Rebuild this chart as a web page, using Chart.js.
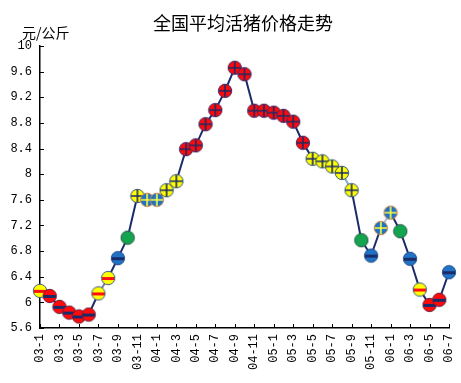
<!DOCTYPE html>
<html>
<head>
<meta charset="utf-8">
<script src="https://cdn.jsdelivr.net/npm/chart.js@4.4.1/dist/chart.umd.min.js"></script>
<style>
  html, body { margin: 0; padding: 0; background: #fff; }
  #wrap { width: 461px; height: 383px; }
</style>
</head>
<body>
<div id="wrap"><canvas id="priceChart"></canvas></div>
<script>
// monthly labels 03-1 .. 06-7
const months = [
  "03-1","03-2","03-3","03-4","03-5","03-6","03-7","03-8","03-9","03-10","03-11","03-12",
  "04-1","04-2","04-3","04-4","04-5","04-6","04-7","04-8","04-9","04-10","04-11","04-12",
  "05-1","05-2","05-3","05-4","05-5","05-6","05-7","05-8","05-9","05-10","05-11","05-12",
  "06-1","06-2","06-3","06-4","06-5","06-6","06-7"
];

// yuan / kg
const prices = [
  6.18, 6.10, 5.93, 5.84, 5.78, 5.81, 6.14, 6.38, 6.69, 7.01, 7.66, 7.60,
  7.60, 7.75, 7.89, 8.39, 8.45, 8.78, 9.00, 9.30, 9.66, 9.56, 8.99, 8.99,
  8.96, 8.91, 8.82, 8.49, 8.24, 8.20, 8.12, 8.02, 7.75, 6.97, 6.73, 7.16,
  7.40, 7.11, 6.68, 6.20, 5.96, 6.04, 6.47
];

const yTicks = [5.6, 6, 6.4, 6.8, 7.2, 7.6, 8, 8.4, 8.8, 9.2, 9.6, 10];

// marker kind per month
const kinds = [
  "yMinus","rMinus","rMinus","rMinus","rMinus","rMinus","yMinus","yMinus","bMinus","green","yPlus","bPlus",
  "bPlus","yPlus","yPlus","rPlus","rPlus","rPlus","rPlus","rPlus","rPlus","rPlus","rPlus","rPlus",
  "rPlus","rPlus","rPlus","rPlus","yPlus","yPlus","yPlus","yPlus","yPlus","green","bMinus","bPlus",
  "bPlus","green","bMinus","yMinus","rMinus","rMinus","bMinus"
];

const NAVY = "#1b2b6a";

function makeMarker(fill, border, mark, markColor) {
  let c = document.createElement("canvas");
  c.width = 16; c.height = 16;
  let g = c.getContext("2d");
  g.beginPath();
  g.arc(8, 8, 6.7, 0, Math.PI * 2);
  g.fillStyle = fill;
  g.fill();
  g.lineWidth = 1;
  g.strokeStyle = border;
  g.stroke();
  g.strokeStyle = markColor;
  g.fillStyle = markColor;
  if (mark === "minus") {
    g.fillRect(2, 7, 12, 3);
  } else if (mark === "plus") {
    g.lineWidth = 1.6;
    g.beginPath();
    g.moveTo(2, 8); g.lineTo(14, 8);
    g.moveTo(8, 2); g.lineTo(8, 14);
    g.stroke();
  }
  return c;
}

const markers = {
  yMinus: makeMarker("#ffff00", "#3d5a80", "minus", "#ff1010"),
  rMinus: makeMarker("#ff0a0a", "#6a2040", "minus", NAVY),
  bMinus: makeMarker("#1f72c4", "#2a4f8a", "minus", NAVY),
  green:  makeMarker("#14a34e", "#2a5e4a", "none", ""),
  yPlus:  makeMarker("#ffff00", "#2f4d78", "plus", NAVY),
  bPlus:  makeMarker("#1f72c4", "#d98a4a", "plus", "#ffff40"),
  rPlus:  makeMarker("#ff0a0a", "#3a2a6a", "plus", NAVY)
};

// a few segments drawn lighter in the original
const lightSegs = { 6: "#8878b4", 10: "#d59a60", 11: "#d59a60", 31: "#86aad8", 35: "#a6bcd8" };

// inward tick marks + unit label + title
const decor = {
  id: "decor",
  afterDraw(chart) {
    let g = chart.ctx;
    let xs = chart.scales.x, ys = chart.scales.y;
    let a = chart.chartArea;
    g.save();
    g.strokeStyle = "#000";
    g.lineWidth = 1;
    g.beginPath();
    xs.ticks.forEach((t, i) => {
      let px = Math.round(xs.getPixelForTick(i)) + 0.5;
      g.moveTo(px, a.bottom); g.lineTo(px, a.bottom - 4);
    });
    ys.ticks.forEach((t, i) => {
      let py = Math.round(ys.getPixelForTick(i)) + 0.5;
      g.moveTo(a.left, py); g.lineTo(a.left + 4, py);
    });
    g.stroke();
    g.fillStyle = "#000";
    g.font = "18px 'Noto Sans CJK SC'";
    g.textAlign = "center";
    g.textBaseline = "middle";
    g.fillText("全国平均活猪价格走势", 243, 23);
    g.font = "14px 'Noto Sans CJK SC'";
    g.textAlign = "left";
    g.fillText("元/公斤", 22, 33);
    g.restore();
  }
};

new Chart(document.getElementById("priceChart"), {
  type: "line",
  data: {
    labels: months,
    datasets: [{
      data: prices,
      borderColor: NAVY,
      borderWidth: 2,
      tension: 0,
      pointStyle: kinds.map(k => markers[k]),
      pointRadius: 7,
      segment: {
        borderColor: ctx => lightSegs[ctx.p0DataIndex] || NAVY
      }
    }]
  },
  options: {
    responsive: true,
    maintainAspectRatio: false,
    animation: false,
    layout: { padding: { top: 46, right: 12, left: 0, bottom: 0 } },
    plugins: {
      legend: { display: false },
      title: { display: false },
      tooltip: { enabled: false }
    },
    scales: {
      x: {
        offset: false,
        grid: { display: false, drawTicks: false },
        border: { color: "#000", width: 1.5 },
        ticks: {
          autoSkip: false,
          maxRotation: 90,
          minRotation: 90,
          padding: 6,
          color: "#000",
          font: { family: "'Liberation Mono', monospace", size: 12 },
          callback: (v, i) => (i % 2 === 0 ? months[i] : null)
        },
        afterFit: s => { s.height = 55; s.paddingLeft = 0; s.paddingRight = 0; }
      },
      y: {
        min: 5.6,
        max: 10,
        grid: { display: false, drawTicks: false },
        border: { color: "#000", width: 1.5 },
        afterBuildTicks: s => { s.ticks = yTicks.map(v => ({ value: v })); },
        ticks: {
          padding: 8,
          color: "#000",
          font: { family: "'Liberation Mono', monospace", size: 12 },
          callback: v => String(v)
        },
        afterFit: s => { s.width = 40; }
      }
    }
  },
  plugins: [decor]
});
</script>
</body>
</html>
